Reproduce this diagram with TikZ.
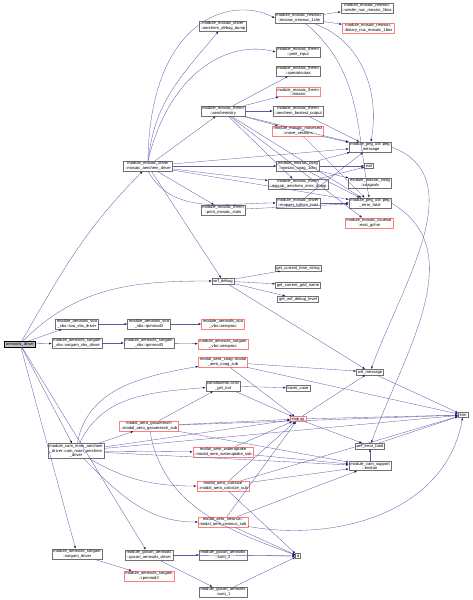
\documentclass[tikz,border=0pt]{standalone}
\usepackage{fontspec}
\setmainfont{Liberation Sans}
\usetikzlibrary{arrows.meta}
\definecolor{edgec}{HTML}{5A5AA6}
\definecolor{tipc}{HTML}{191970}
\definecolor{boxc}{HTML}{707070}
\definecolor{redc}{HTML}{FF7F7F}
\tikzset{
  nd/.style={draw=boxc, line width=0.45pt, fill=white, font=\fontsize{4.1}{4.6}\selectfont, align=center, inner xsep=1.4pt, inner ysep=0.9pt},
  rd/.style={nd, draw=redc},
  cur/.style={nd, fill=gray!50, draw=black},
  e/.style={draw=edgec, line width=0.32pt, -{Latex[length=2.6pt,width=2pt,color=tipc]}},
}
\begin{document}
\begin{tikzpicture}[x=1pt,y=-1pt]
\useasboundingbox (0,0) rectangle (472,600);
\fill[white] (0,0) rectangle (472,600);
% nodes
\node[cur] (ad) at (20,344) {aerosols\_driver};
\node[nd] (dbg) at (223,26) {module\_mosaic\_driver\\::aerchem\_debug\_dump};
\node[nd] (nn) at (299,18) {module\_mosaic\_newnuc\\::mosaic\_newnuc\_1clm};
\node[nd] (wex) at (367,8) {module\_mosaic\_newnuc\\::wexler\_nuc\_mosaic\_1box};
\node[rd] (bin) at (368,28) {module\_mosaic\_newnuc\\::binary\_nuc\_mosaic\_1box};
\node[nd] (pin) at (298,52) {module\_mosaic\_therm\\::print\_input};
\node[nd] (spo) at (298,71) {module\_mosaic\_therm\\::specialoutaa};
\node[rd] (mos) at (298,92) {module\_mosaic\_therm\\::mosaic};
\node[nd] (box) at (298,111) {module\_mosaic\_therm\\::aerchem\_boxtest\_output};
\node[nd] (ach) at (223,111) {module\_mosaic\_therm\\::aerchemistry};
\node[rd] (mvs) at (298,131) {module\_mosaic\_movesect\\::move\_sections};
\node[nd] (mad) at (148,166) {module\_mosaic\_driver\\::mosaic\_aerchem\_driver};
\node[nd] (pegm) at (370,147) {module\_peg\_util::peg\\\_message};
\node[nd] (coag) at (298,166) {module\_mosaic\_coag\\::mosaic\_coag\_1clm};
\node[nd] (exit) at (369,166) {exit};
\node[nd] (err) at (298,184) {module\_mosaic\_therm\\::mosaic\_aerchem\_error\_dump};
\node[nd] (cs) at (370,183) {module\_mosaic\_coag\\::coagsolv};
\node[nd] (map) at (298,203) {module\_mosaic\_driver\\::mapaer\_tofrom\_host};
\node[nd] (pegf) at (370,203) {module\_peg\_util::peg\\\_error\_fatal};
\node[rd] (esat) at (369,223) {module\_mosaic\_csuesat\\::esat\_gchm};
\node[nd] (pms) at (223,210) {module\_mosaic\_therm\\::print\_mosaic\_stats};
\node[nd] (wd) at (223,281) {wrf\_debug};
\node[nd] (gts) at (298,268) {get\_current\_time\_string};
\node[nd] (ggn) at (298,285) {get\_current\_grid\_name};
\node[nd] (gdl) at (298,299) {get\_wrf\_debug\_level};
\node[nd] (sv) at (77,324) {module\_aerosols\_soa\\\_vbs::soa\_vbs\_driver};
\node[nd] (sr) at (149,324) {module\_aerosols\_soa\\\_vbs::rpmmod3};
\node[rd] (sa) at (223,324) {module\_aerosols\_soa\\\_vbs::aeroproc};
\node[nd] (gv) at (77,343) {module\_aerosols\_sorgam\\\_vbs::sorgam\_vbs\_driver};
\node[nd] (gr) at (149,343) {module\_aerosols\_sorgam\\\_vbs::rpmmod3};
\node[rd] (ga) at (223,344) {module\_aerosols\_sorgam\\\_vbs::aeroproc};
\node[nd] (cam) at (76,451) {module\_cam\_mam\_aerchem\\\_driver::cam\_mam\_aerchem\\\_driver};
\node[rd] (mcoag) at (223,362) {modal\_aero\_coag::modal\\\_aero\_coag\_sub};
\node[nd] (cgi) at (223,386) {constituents::cnst\\\_get\_ind};
\node[nd] (lc) at (298,388) {lower\_case};
\node[rd] (gas) at (149,426) {modal\_aero\_gasaerexch\\::modal\_aero\_gasaerexch\_sub};
\node[rd] (endr) at (298,419) {endrun};
\node[nd] (wm) at (370,372) {wrf\_message};
\node[nd] (trim) at (463,415) {trim};
\node[nd] (wef) at (370,446) {wrf\_error\_fatal};
\node[rd] (wup) at (223,452) {modal\_aero\_wateruptake\\::modal\_aero\_wateruptake\_sub};
\node[nd] (cse) at (370,466) {module\_cam\_support\\::endrun};
\node[rd] (calc) at (223,486) {modal\_aero\_calcsize\\::modal\_aero\_calcsize\_sub};
\node[rd] (nnuc) at (223,522) {modal\_aero\_newnuc::\\modal\_aero\_newnuc\_sub};
\node[nd] (sgd) at (77,554) {module\_aerosols\_sorgam\\::sorgam\_driver};
\node[nd] (gcd) at (149,555) {module\_gocart\_aerosols\\::gocart\_aerosols\_driver};
\node[nd] (s2) at (223,555) {module\_gocart\_aerosols\\::sum\_2};
\node[nd] (dd) at (298,556) {d};
\node[rd] (srp) at (149,576) {module\_aerosols\_sorgam\\::rpmmod3};
\node[nd] (s1) at (223,592) {module\_gocart\_aerosols\\::sum\_1};
% edges from aerosols_driver
\draw[e] (ad) to[out=60,in=-135] (mad);
\draw[e] (ad) to[out=45,in=180] (wd);
\draw[e] (ad) -- (sv);
\draw[e] (ad) -- (gv);
\draw[e] (ad) -- (cam);
\draw[e] (ad) -- (sgd);
\draw[e] (ad) -- (gcd);
% mosaic aerchem driver
\draw[e] (mad) to[out=85,in=-130] (dbg);
\draw[e] (mad.north) .. controls (150,20) and (230,-5) .. (nn.west);
\draw[e] (mad) -- (ach);
\draw[e] (mad.north) .. controls (170,70) and (230,40) .. (pin.west);
\draw[e] (mad) -- (pegm);
\draw[e] (mad) -- (coag);
\draw[e] (mad) -- (err);
\draw[e] (mad) -- (pms);
\draw[e] (mad.south) to[out=-60,in=180] (map);
\draw[e] (mad) -- (pegf);
\draw[e] (mad) -- (wd);
% aerchemistry
\draw[e] (ach) -- (spo);
\draw[e] (ach) -- (mos);
\draw[e] (ach) -- (box);
\draw[e] (ach) -- (mvs);
\draw[e] (ach) -- (pegm);
\draw[e] (ach) -- (pegf);
\draw[e] (ach) -- (esat);
\draw[e] (ach) -- (err);
% newnuc
\draw[e] (nn) -- (wex);
\draw[e] (nn) -- (bin);
\draw[e] (nn) to[out=-20,in=80] (pegm);
\draw[e] (nn) to[out=-40,in=100] (pegf);
% others mosaic
\draw[e] (box) -- (pegm);
\draw[e] (mvs) -- (pegm);
\draw[e] (mvs) -- (pegf);
\draw[e] (coag) -- (cs);
\draw[e] (coag) -- (exit);
\draw[e] (coag) -- (pegm);
\draw[e] (coag) -- (pegf);
\draw[e] (err) -- (exit);
\draw[e] (map) -- (pegm);
\draw[e] (map) -- (pegf);
\draw[e] (pms) -- (pegf);
\draw[e] (pegm.east) to[out=-20,in=70] (wm);
\draw[e] (pegf.east) to[out=-30,in=70] (wef);
% wrf_debug
\draw[e] (wd) -- (gts);
\draw[e] (wd) -- (ggn);
\draw[e] (wd) -- (gdl);
\draw[e] (wd) -- (wm);
% soa / sorgam
\draw[e] (sv) -- (sr);
\draw[e] (sr) -- (sa);
\draw[e] (gv) -- (gr);
\draw[e] (gr) -- (ga);
% cam mam
\draw[e] (cam) to[out=80,in=190] (mcoag);
\draw[e] (cam) to[out=65,in=185] (cgi);
\draw[e] (cam) -- (gas);
\draw[e] (cam) -- (wup);
\draw[e] (cam) to[out=-30,in=180] (calc);
\draw[e] (cam) to[out=-45,in=180] (nnuc);
\draw[e] (cam) -- (endr);
\draw[e] (cam) -- (cse);
\draw[e] (cam) -- (trim);
\draw[e] (mcoag) -- (endr);
\draw[e] (mcoag) -- (wm);
\draw[e] (mcoag) -- (trim);
\draw[e] (cgi) -- (lc);
\draw[e] (cgi) -- (endr);
\draw[e] (gas) -- (cgi);
\draw[e] (gas) -- (endr);
\draw[e] (gas) -- (trim);
\draw[e] (gas) -- (cse);
\draw[e] (gas) to[out=-80,in=160] (dd);
\draw[e] (wup) -- (endr);
\draw[e] (wup) -- (cse);
\draw[e] (calc) -- (endr);
\draw[e] (calc) -- (cse);
\draw[e] (calc) -- (trim);
\draw[e] (calc) -- (dd);
\draw[e] (nnuc) -- (endr);
\draw[e] (nnuc) -- (cse);
\draw[e] (nnuc) -- (dd);
\draw[e] (nnuc) to[out=-10,in=-100] (trim);
\draw[e] (endr) -- (wm);
\draw[e] (endr) -- (wef);
\draw[e] (endr) -- (trim);
\draw[e] (cse) -- (wef);
\draw[e] (wm) -- (trim);
\draw[e] (wef) -- (trim);
% gocart / sorgam
\draw[e] (sgd) -- (srp);
\draw[e] (gcd) -- (s2);
\draw[e] (gcd) -- (s1);
\draw[e] (gcd) -- (dd);
\draw[e] (s2) -- (dd);
\draw[e] (s1) -- (dd);
\end{tikzpicture}
\end{document}
